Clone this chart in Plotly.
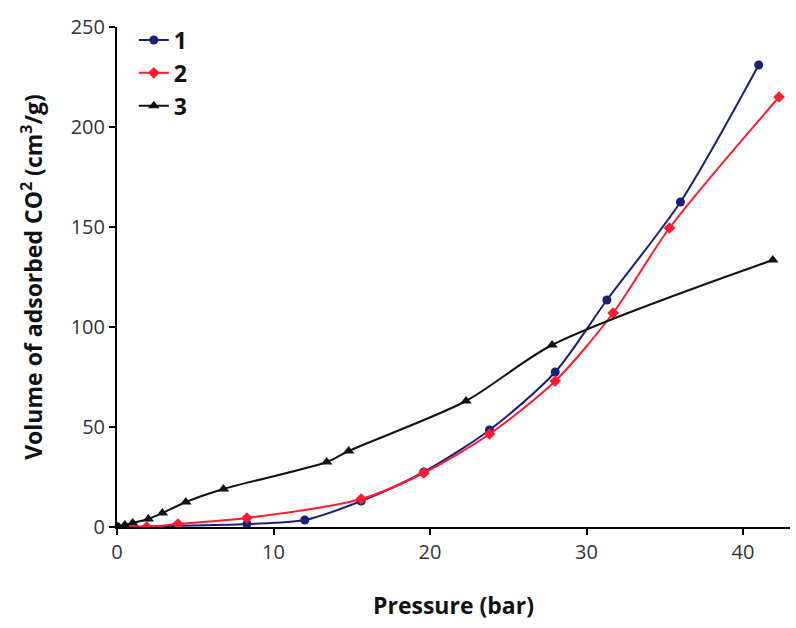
import plotly.graph_objects as go

# Series 1 (navy, circles)
x1 = [0.0, 3.8, 8.3, 12.0, 15.6, 19.6, 23.8, 28.0, 31.3, 36.0, 41.0]
y1 = [0.0, 0.5, 1.5, 3.5, 13.0, 27.5, 48.5, 77.5, 113.5, 162.5, 231.0]

# Series 2 (red, diamonds)
x2 = [0.0, 1.9, 3.9, 8.3, 15.6, 19.6, 23.8, 28.0, 31.7, 35.3, 42.3]
y2 = [0.0, 0.0, 1.5, 4.5, 14.0, 27.0, 46.5, 73.0, 107.0, 149.5, 215.0]

# Series 3 (black, triangles)
x3 = [0.1, 0.5, 1.0, 2.0, 2.9, 4.4, 6.8, 13.4, 14.8, 22.3, 27.8, 41.9]
y3 = [0.0, 1.0, 2.0, 4.0, 7.0, 12.5, 19.0, 32.5, 38.0, 63.0, 91.0, 133.5]

names = ["1", "2", "3"]

FONT = "Open Sans"

fig = go.Figure()
fig.add_trace(go.Scatter(
    x=x1, y=y1, name=names[0], mode="lines+markers",
    line=dict(color="#1c1f78", width=2, shape="spline", smoothing=0.8),
    marker=dict(symbol="circle", size=9, color="#1c1f78"),
))
fig.add_trace(go.Scatter(
    x=x2, y=y2, name=names[1], mode="lines+markers",
    line=dict(color="#ff1a2e", width=2, shape="spline", smoothing=0.8),
    marker=dict(symbol="diamond", size=9, color="#ff1a2e"),
))
fig.add_trace(go.Scatter(
    x=x3, y=y3, name=names[2], mode="lines+markers",
    line=dict(color="#111111", width=2, shape="spline", smoothing=0.8),
    marker=dict(symbol="triangle-up", size=10, color="#111111"),
))

fig.update_layout(
    width=796, height=628,
    margin=dict(l=117, r=6, t=27, b=101),
    paper_bgcolor="white", plot_bgcolor="white",
    font=dict(family=FONT, size=20, color="#222222"),
    showlegend=True,
    legend=dict(
        x=0.025, y=1.017, xanchor="left", yanchor="top",
        bgcolor="rgba(0,0,0,0)",
        font=dict(family=FONT, size=23, color="#111111", weight="bold"),
        itemwidth=30,
    ),
    xaxis=dict(
        range=[0, 43], tickvals=[0, 10, 20, 30, 40],
        showline=True, linecolor="black", linewidth=2,
        ticks="outside", ticklen=6, tickwidth=2, tickcolor="black",
        showgrid=False, zeroline=False,
        tickfont=dict(family=FONT, size=20, color="#333333"),
        title=dict(text="<b>Pressure (bar)</b>", standoff=34,
                   font=dict(family=FONT, size=23, color="#111111")),
    ),
    yaxis=dict(
        range=[0, 250], tickvals=[0, 50, 100, 150, 200, 250],
        showline=True, linecolor="black", linewidth=2,
        ticks="outside", ticklen=6, tickwidth=2, tickcolor="black",
        showgrid=False, zeroline=False,
        tickfont=dict(family=FONT, size=20, color="#333333"),
        title=dict(text="<b>Volume of adsorbed CO<sup>2</sup> (cm<sup>3</sup>/g)</b>",
                   standoff=22,
                   font=dict(family=FONT, size=23, color="#111111")),
    ),
)

fig.write_html("out.html")
